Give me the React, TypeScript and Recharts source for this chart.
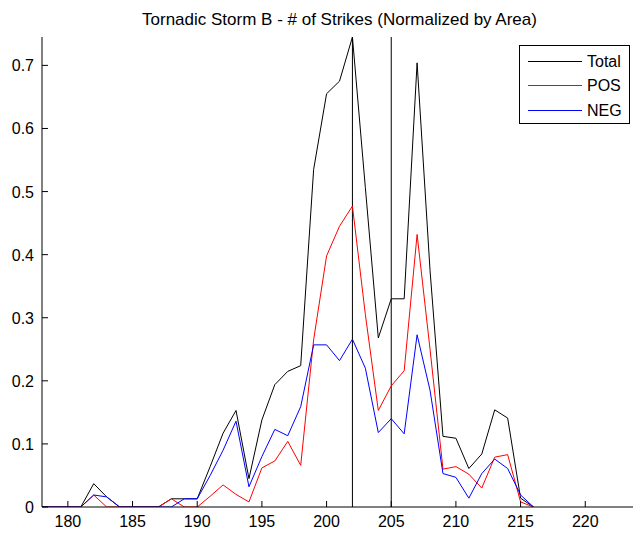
import React from 'react';
import { LineChart, Line, XAxis, YAxis, ReferenceLine, Legend } from 'recharts';

// frame numbers (x axis)
const frames = [
  178, 179, 180, 181, 182, 183, 184, 185, 186, 187, 188, 189, 190, 191, 192, 193, 194, 195, 196, 197,
  198, 199, 200, 201, 202, 203, 204, 205, 206, 207, 208, 209, 210, 211, 212, 213, 214, 215, 216,
];

const total = [
  0, 0, 0, 0, 0.037, 0.016, 0, 0, 0, 0, 0.013, 0.013, 0.013, 0.064, 0.117, 0.153, 0.045, 0.138, 0.194, 0.215,
  0.224, 0.535, 0.655, 0.675, 0.745, 0.506, 0.268, 0.33, 0.33, 0.704, 0.375, 0.112, 0.109, 0.061, 0.084, 0.154, 0.141, 0.014, 0,
];

const pos = [
  0, 0, 0, 0, 0.019, 0, 0, 0, 0, 0, 0.013, 0, 0, 0.017, 0.035, 0.02, 0.008, 0.062, 0.073, 0.104,
  0.066, 0.265, 0.398, 0.445, 0.477, 0.305, 0.153, 0.192, 0.216, 0.432, 0.25, 0.06, 0.064, 0.052, 0.03, 0.079, 0.083, 0.008, 0,
];

const neg = [
  0, 0, 0, 0, 0.019, 0.016, 0, 0, 0, 0, 0, 0.013, 0.013, 0.05, 0.09, 0.136, 0.032, 0.08, 0.123, 0.113,
  0.159, 0.257, 0.257, 0.232, 0.266, 0.22, 0.118, 0.14, 0.116, 0.273, 0.185, 0.053, 0.047, 0.014, 0.053, 0.076, 0.061, 0.019, 0,
];

const xTicks = [180, 185, 190, 195, 200, 205, 210, 215, 220];
const yTicks = [0, 0.1, 0.2, 0.3, 0.4, 0.5, 0.6, 0.7];
const markers = [202, 205];

const seriesInfo = [
  { key: 'total', name: 'Total', color: '#000000' },
  { key: 'pos', name: 'POS', color: '#ff0000' },
  { key: 'neg', name: 'NEG', color: '#0000ff' },
];

const data = frames.map((t, i) => ({ t, total: total[i], pos: pos[i], neg: neg[i] }));

const FONT = '"Liberation Sans", Arial, Helvetica, sans-serif';

// matlab style ticks: pointing inward
const BottomTick = (props: any) => {
  const { x, y, payload } = props;
  return (
    <g>
      <line x1={x} x2={x} y1={y} y2={y - 6} stroke="#000" />
      <text x={x} y={y + 20} textAnchor="middle" fontSize={16} fontFamily={FONT} fill="#000">
        {payload.value}
      </text>
    </g>
  );
};

const TopTick = (props: any) => {
  const { x, y } = props;
  return <line x1={x} x2={x} y1={y} y2={y + 6} stroke="#000" />;
};

const LeftTick = (props: any) => {
  const { x, y, payload } = props;
  return (
    <g>
      <line x1={x} x2={x + 6} y1={y} y2={y} stroke="#000" />
      <text x={x - 8} y={y + 6} textAnchor="end" fontSize={16} fontFamily={FONT} fill="#000">
        {payload.value === 0 ? '0' : payload.value.toFixed(1)}
      </text>
    </g>
  );
};

const RightTick = (props: any) => {
  const { x, y } = props;
  return <line x1={x} x2={x - 6} y1={y} y2={y} stroke="#000" />;
};

const LegendBox = () => (
  <svg width={111} height={79} style={{ display: 'block' }}>
    <rect x={0.5} y={0.5} width={110} height={78} fill="#fff" stroke="#000" />
    {seriesInfo.map((s, i) => {
      const cy = 15.5 + i * 24.5;
      return (
        <g key={s.key}>
          <line x1={9} x2={63} y1={Math.round(cy) + 0.5} y2={Math.round(cy) + 0.5} stroke={s.color} strokeWidth={1} />
          <text x={68} y={cy + 6} fontSize={16} fontFamily={FONT} fill="#000">
            {s.name}
          </text>
        </g>
      );
    })}
  </svg>
);

export default function App() {
  return (
    <div style={{ position: 'absolute', left: 0, top: 0, width: 633, height: 534, background: '#fff', overflow: 'hidden' }}>
      <div
        style={{
          position: 'absolute',
          left: 42,
          width: 595,
          top: 11,
          textAlign: 'center',
          fontFamily: FONT,
          fontSize: 17,
          lineHeight: '17px',
          color: '#000',
          whiteSpace: 'nowrap',
        }}
      >
        Tornadic Storm B - # of Strikes (Normalized by Area)
      </div>
      <LineChart width={638} height={534} data={data} margin={{ top: 37, right: 1, bottom: 0, left: 0 }}>
        <XAxis
          dataKey="t"
          type="number"
          domain={[178, 224]}
          ticks={xTicks}
          allowDataOverflow
          height={27}
          tickSize={0}
          tickMargin={0}
          tickLine={false}
          tick={<BottomTick />}
          axisLine={{ stroke: '#000' }}
        />
        <XAxis
          xAxisId="top"
          orientation="top"
          dataKey="t"
          type="number"
          domain={[178, 224]}
          ticks={xTicks}
          allowDataOverflow
          height={0}
          tickSize={0}
          tickMargin={0}
          tickLine={false}
          tick={<TopTick />}
          axisLine={{ stroke: '#000' }}
        />
        <YAxis
          type="number"
          domain={[0, 0.745]}
          ticks={yTicks}
          allowDataOverflow
          width={42}
          tickSize={0}
          tickMargin={0}
          tickLine={false}
          tick={<LeftTick />}
          axisLine={{ stroke: '#000' }}
        />
        <YAxis
          yAxisId="right"
          orientation="right"
          type="number"
          domain={[0, 0.745]}
          ticks={yTicks}
          allowDataOverflow
          width={0}
          tickSize={0}
          tickMargin={0}
          tickLine={false}
          tick={<RightTick />}
          axisLine={{ stroke: '#000' }}
        />
        {markers.map((m) => (
          <ReferenceLine key={m} x={m} stroke="#000" strokeWidth={1} />
        ))}
        {seriesInfo.map((s) => (
          <Line
            key={s.key}
            type="linear"
            dataKey={s.key}
            name={s.name}
            stroke={s.color}
            strokeWidth={1}
            dot={false}
            activeDot={false}
            isAnimationActive={false}
          />
        ))}
        <Legend
          layout="vertical"
          align="center"
          verticalAlign="middle"
          content={<LegendBox />}
          wrapperStyle={{ top: 45, left: 519, width: 111, height: 79 }}
        />
      </LineChart>
    </div>
  );
}
